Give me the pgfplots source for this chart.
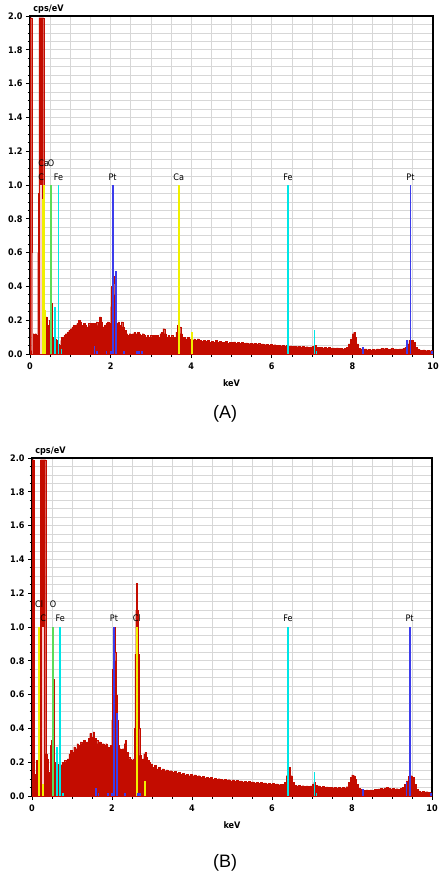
\documentclass[border=0pt]{standalone}
\usepackage{fontspec}
\setmainfont{DejaVu Sans Condensed}
\newfontfamily\capfont{Liberation Sans}
\usepackage{pgfplots}
\pgfplotsset{compat=1.18}
\definecolor{spec}{RGB}{195,12,0}
\definecolor{ly}{RGB}{240,240,0}
\definecolor{lg}{RGB}{90,220,90}
\definecolor{lc}{RGB}{0,230,230}
\definecolor{lb}{RGB}{60,60,235}
\definecolor{lp}{RGB}{250,205,205}
\definecolor{gridc}{RGB}{215,215,215}
\tikzset{lbl/.style={font=\fontsize{9}{10}\selectfont, anchor=base, inner sep=0pt}}
\pgfplotsset{
  edsaxis/.style={
    scale only axis, width=403pt, height=338pt, clip mode=individual,
    xmin=0, xmax=10, ymin=0, ymax=2,
    xtick={0,2,...,10}, minor xtick={0.5,1,...,9.5},
    ytick={0,0.2,...,2.01}, minor y tick num=3,
    xtick pos=bottom, ytick pos=left,
    grid=both, major grid style={gridc, line width=0.8pt}, minor grid style={gridc, line width=0.8pt},
    tick align=outside, major tick length=4pt, minor tick length=2.5pt,
    tick style={black, line width=0.8pt},
    axis line style={black, line width=1.2pt},
    /pgf/number format/assume math mode=true,
    yticklabel style={/pgf/number format/.cd, fixed, fixed zerofill, precision=1},
    tick label style={font=\fontsize{9}{10}\selectfont\bfseries},
    xticklabel style={yshift=-1pt},
  },
  elline/.style={ycomb, mark=none, line width=1.8pt},
}
\begin{document}
\begin{tikzpicture}
\path[use as bounding box] (0,0) rectangle (439pt,-872pt);
% ---------------- Panel A ----------------
\begin{axis}[edsaxis, at={(30pt,-354pt)}, anchor=south west]
\addplot[const plot, fill=spec, draw=spec, line width=0.2pt] coordinates {
(0.00,1.99)(0.04,0.02)(0.07,0.12)(0.10,0.10)(0.13,0.12)(0.16,0.11)(0.19,0.60)(0.21,0.95)(0.22,1.99)
(0.34,0.45)(0.36,0.25)(0.38,0.15)(0.40,0.22)(0.42,0.12)(0.44,0.17)(0.46,0.08)(0.48,0.20)(0.50,0.35)
(0.52,0.30)(0.54,0.15)(0.56,0.10)(0.58,0.08)(0.60,0.10)(0.62,0.09)(0.64,0.07)(0.66,0.08)(0.68,0.05)
(0.70,0.06)(0.72,0.04)(0.74,0.05)(0.76,0.08)(0.78,0.10)(0.80,0.10)(0.84,0.11)(0.88,0.12)(0.92,0.13)
(0.96,0.14)(1.00,0.15)(1.04,0.16)(1.08,0.17)(1.12,0.17)(1.16,0.18)(1.20,0.20)(1.24,0.19)(1.28,0.17)
(1.32,0.18)(1.36,0.17)(1.40,0.16)(1.44,0.18)(1.48,0.17)(1.52,0.18)(1.56,0.17)(1.60,0.18)(1.64,0.19)
(1.68,0.17)(1.72,0.22)(1.76,0.19)(1.80,0.16)(1.84,0.17)(1.88,0.18)(1.92,0.19)(1.96,0.18)(2.00,0.28)
(2.02,0.40)(2.04,0.44)(2.06,0.46)(2.08,0.42)(2.10,0.35)(2.12,0.25)(2.14,0.18)(2.18,0.19)(2.22,0.17)
(2.26,0.19)(2.30,0.16)(2.34,0.14)(2.38,0.12)(2.42,0.11)(2.46,0.12)(2.50,0.11)(2.54,0.12)(2.58,0.13)
(2.62,0.12)(2.66,0.13)(2.70,0.12)(2.74,0.11)(2.78,0.12)(2.82,0.11)(2.86,0.10)(2.90,0.11)(2.94,0.10)
(2.98,0.11)(3.02,0.10)(3.06,0.11)(3.10,0.10)(3.14,0.11)(3.18,0.10)(3.22,0.12)(3.26,0.13)(3.30,0.15)
(3.34,0.12)(3.38,0.10)(3.42,0.11)(3.46,0.10)(3.50,0.11)(3.54,0.10)(3.58,0.10)(3.62,0.13)(3.66,0.17)
(3.70,0.16)(3.74,0.12)(3.78,0.10)(3.82,0.10)(3.86,0.09)(3.90,0.10)(3.94,0.09)(3.98,0.09)(4.02,0.08)
(4.06,0.09)(4.10,0.08)(4.15,0.09)(4.20,0.08)(4.25,0.075)(4.30,0.08)(4.35,0.075)(4.40,0.08)(4.45,0.07)
(4.50,0.075)(4.55,0.07)(4.60,0.08)(4.65,0.07)(4.70,0.075)(4.75,0.07)(4.80,0.07)(4.85,0.075)(4.90,0.065)
(4.95,0.07)(5.00,0.068)(5.05,0.072)(5.10,0.065)(5.15,0.07)(5.20,0.063)(5.25,0.068)(5.30,0.062)
(5.35,0.066)(5.40,0.06)(5.45,0.065)(5.50,0.058)(5.55,0.064)(5.60,0.058)(5.65,0.062)(5.70,0.056)
(5.75,0.06)(5.80,0.055)(5.85,0.058)(5.90,0.052)(5.95,0.056)(6.00,0.05)(6.05,0.055)(6.10,0.05)
(6.15,0.053)(6.20,0.048)(6.25,0.052)(6.30,0.046)(6.35,0.05)(6.40,0.045)(6.45,0.048)(6.50,0.044)
(6.55,0.047)(6.60,0.043)(6.65,0.046)(6.70,0.042)(6.75,0.045)(6.80,0.04)(6.85,0.043)(6.90,0.039)
(6.95,0.042)(7.00,0.045)(7.05,0.05)(7.10,0.04)(7.15,0.038)(7.20,0.041)(7.25,0.036)(7.30,0.039)
(7.35,0.035)(7.40,0.038)(7.45,0.034)(7.50,0.037)(7.55,0.033)(7.60,0.036)(7.65,0.032)(7.70,0.035)
(7.75,0.031)(7.80,0.034)(7.85,0.04)(7.90,0.06)(7.95,0.09)(8.00,0.12)(8.03,0.13)(8.06,0.10)(8.10,0.06)
(8.15,0.035)(8.20,0.03)(8.25,0.027)(8.30,0.03)(8.35,0.026)(8.40,0.029)(8.45,0.025)(8.50,0.028)
(8.55,0.026)(8.60,0.03)(8.65,0.027)(8.70,0.032)(8.75,0.028)(8.80,0.035)(8.85,0.03)(8.90,0.028)
(8.95,0.032)(9.00,0.027)(9.05,0.03)(9.10,0.028)(9.15,0.031)(9.20,0.03)(9.25,0.033)(9.30,0.04)
(9.35,0.06)(9.40,0.08)(9.45,0.08)(9.50,0.07)(9.55,0.04)(9.60,0.03)(9.65,0.025)(9.70,0.022)
(9.75,0.025)(9.80,0.02)(9.85,0.023)(9.90,0.02)(9.95,0.022)(10.0,0.02)
} \closedcycle;
\addplot[ycomb, mark=none, color=spec!50, line width=1pt] coordinates {(0.055,0.6)};
\addplot[elline, color=lp] coordinates {(0.277,1)};
\addplot[elline, color=ly] coordinates {(0.341,1)(0.31,0.92)(0.38,0.26)(4.01,0.13)(3.69,1)};
\addplot[elline, color=lg] coordinates {(0.525,1)};
\addplot[elline, color=lc] coordinates {(0.705,1)(0.63,0.28)(0.78,0.03)(6.40,1)(7.06,0.14)(7.11,0.02)};
\addplot[elline, color=lb] coordinates {(2.05,1)(2.13,0.49)(1.60,0.05)(1.66,0.02)(1.90,0.02)(2.00,0.02)(2.33,0.02)(2.65,0.02)(2.70,0.02)(2.78,0.02)(9.44,1)(9.36,0.08)(8.27,0.04)(9.98,0.02)};
\node[lbl] at (axis cs:0.341,1.11) {Ca};
\node[lbl] at (axis cs:0.525,1.11) {O};
\node[lbl] at (axis cs:0.277,1.025) {C};
\node[lbl] at (axis cs:0.705,1.025) {Fe};
\node[lbl] at (axis cs:2.05,1.025) {Pt};
\node[lbl] at (axis cs:3.69,1.025) {Ca};
\node[lbl] at (axis cs:6.40,1.025) {Fe};
\node[lbl] at (axis cs:9.44,1.025) {Pt};
\node[font=\fontsize{9}{10}\selectfont\bfseries, anchor=south west, inner sep=0pt] at (rel axis cs:0.008,1.008) {cps/eV};
\node[font=\fontsize{9}{10}\selectfont\bfseries, anchor=base] at (rel axis cs:0.5,-0.095) {keV};
\end{axis}
\node[font=\capfont\fontsize{18}{20}\selectfont] at (225pt,-414pt) {(A)};
% ---------------- Panel B ----------------
\begin{axis}[edsaxis, at={(32pt,-796pt)}, anchor=south west, width=400pt]
\addplot[const plot, fill=spec, draw=spec, line width=0.2pt] coordinates {
(0.00,1.99)(0.05,0.02)(0.07,0.13)(0.11,0.21)(0.15,0.22)(0.19,0.90)(0.21,1.99)
(0.34,0.25)(0.37,0.22)(0.40,0.14)(0.43,0.13)(0.46,0.30)(0.48,0.33)(0.50,0.50)(0.52,0.69)(0.54,0.45)
(0.56,0.20)(0.58,0.18)(0.60,0.15)(0.62,0.18)(0.64,0.16)(0.66,0.19)(0.68,0.15)(0.70,0.12)(0.72,0.18)
(0.74,0.19)(0.76,0.20)(0.80,0.21)(0.84,0.20)(0.88,0.22)(0.92,0.25)(0.96,0.27)(1.00,0.26)(1.04,0.29)
(1.08,0.28)(1.12,0.31)(1.16,0.30)(1.20,0.32)(1.24,0.31)(1.28,0.33)(1.32,0.30)(1.36,0.32)(1.40,0.34)
(1.44,0.37)(1.48,0.35)(1.52,0.38)(1.56,0.34)(1.60,0.33)(1.64,0.31)(1.68,0.32)(1.72,0.30)(1.76,0.31)
(1.80,0.30)(1.84,0.31)(1.88,0.29)(1.92,0.28)(1.96,0.30)(1.99,0.45)(2.01,0.75)(2.03,0.90)(2.05,1.00)
(2.07,0.85)(2.09,0.80)(2.11,0.60)(2.13,0.45)(2.15,0.30)(2.18,0.28)(2.22,0.27)(2.26,0.28)(2.30,0.31)
(2.33,0.33)(2.36,0.26)(2.40,0.23)(2.44,0.22)(2.48,0.21)(2.52,0.22)(2.55,0.40)(2.57,0.84)(2.59,1.10)
(2.61,1.26)(2.63,1.10)(2.65,0.84)(2.67,0.40)(2.69,0.24)(2.72,0.21)(2.76,0.22)(2.79,0.25)(2.82,0.26)
(2.85,0.23)(2.88,0.21)(2.92,0.20)(2.96,0.19)(3.00,0.17)(3.05,0.18)(3.10,0.16)(3.15,0.17)(3.20,0.155)
(3.25,0.16)(3.30,0.15)(3.35,0.155)(3.40,0.145)(3.45,0.15)(3.50,0.14)(3.55,0.145)(3.60,0.135)
(3.65,0.14)(3.70,0.13)(3.75,0.135)(3.80,0.125)(3.85,0.13)(3.90,0.12)(3.95,0.128)(4.00,0.12)
(4.05,0.125)(4.10,0.115)(4.15,0.12)(4.20,0.11)(4.25,0.115)(4.30,0.108)(4.35,0.112)(4.40,0.105)
(4.45,0.11)(4.50,0.10)(4.55,0.105)(4.60,0.098)(4.65,0.103)(4.70,0.10)(4.75,0.095)(4.80,0.10)
(4.85,0.092)(4.90,0.097)(4.95,0.09)(5.00,0.095)(5.05,0.088)(5.10,0.093)(5.15,0.086)(5.20,0.09)
(5.25,0.084)(5.30,0.088)(5.35,0.082)(5.40,0.086)(5.45,0.08)(5.50,0.084)(5.55,0.078)(5.60,0.082)
(5.65,0.076)(5.70,0.08)(5.75,0.074)(5.80,0.078)(5.85,0.072)(5.90,0.076)(5.95,0.07)(6.00,0.074)
(6.05,0.068)(6.10,0.072)(6.15,0.067)(6.20,0.07)(6.25,0.068)(6.30,0.08)(6.35,0.12)(6.38,0.17)
(6.42,0.17)(6.46,0.12)(6.50,0.08)(6.55,0.065)(6.60,0.06)(6.65,0.063)(6.70,0.058)(6.75,0.061)
(6.80,0.057)(6.85,0.06)(6.90,0.056)(6.95,0.06)(7.00,0.07)(7.04,0.08)(7.08,0.065)(7.12,0.055)
(7.15,0.06)(7.20,0.052)(7.25,0.056)(7.30,0.05)(7.35,0.054)(7.40,0.05)(7.45,0.053)(7.50,0.049)
(7.55,0.052)(7.60,0.048)(7.65,0.051)(7.70,0.047)(7.75,0.05)(7.80,0.048)(7.85,0.055)(7.90,0.08)
(7.95,0.11)(7.99,0.125)(8.03,0.12)(8.07,0.10)(8.11,0.07)(8.15,0.045)(8.20,0.04)(8.25,0.036)
(8.30,0.034)(8.35,0.036)(8.40,0.033)(8.45,0.037)(8.50,0.035)(8.55,0.04)(8.60,0.038)(8.65,0.042)
(8.70,0.045)(8.75,0.042)(8.80,0.048)(8.85,0.05)(8.90,0.045)(8.95,0.042)(9.00,0.045)(9.05,0.04)
(9.10,0.043)(9.15,0.04)(9.20,0.045)(9.25,0.05)(9.30,0.07)(9.35,0.09)(9.40,0.115)(9.45,0.12)
(9.50,0.11)(9.55,0.07)(9.60,0.04)(9.65,0.03)(9.70,0.025)(9.75,0.028)(9.80,0.024)(9.85,0.026)
(9.90,0.022)(9.95,0.02)(10.0,0.02)
} \closedcycle;
\addplot[elline, color=lp] coordinates {(0.277,1)};
\addplot[elline, color=ly] coordinates {(0.18,1)(0.27,0.07)(2.62,1)(2.82,0.09)};
\addplot[elline, color=lg] coordinates {(0.525,1)};
\addplot[elline, color=lc] coordinates {(0.705,1)(0.62,0.29)(0.78,0.02)(6.40,1)(7.06,0.14)(7.11,0.02)};
\addplot[elline, color=lb] coordinates {(2.05,1)(2.13,0.49)(1.60,0.05)(1.66,0.02)(1.90,0.02)(2.00,0.02)(2.33,0.02)(2.65,0.02)(2.70,0.02)(9.44,1)(9.36,0.08)(8.27,0.04)(9.98,0.02)};
\node[lbl] at (axis cs:0.18,1.118) {Cl};
\node[lbl] at (axis cs:0.525,1.118) {O};
\node[lbl] at (axis cs:0.277,1.03) {C};
\node[lbl] at (axis cs:0.705,1.03) {Fe};
\node[lbl] at (axis cs:2.05,1.03) {Pt};
\node[lbl] at (axis cs:2.62,1.03) {Cl};
\node[lbl] at (axis cs:6.40,1.03) {Fe};
\node[lbl] at (axis cs:9.44,1.03) {Pt};
\node[font=\fontsize{9}{10}\selectfont\bfseries, anchor=south west, inner sep=0pt] at (rel axis cs:0.008,1.008) {cps/eV};
\node[font=\fontsize{9}{10}\selectfont\bfseries, anchor=base] at (rel axis cs:0.5,-0.095) {keV};
\end{axis}
\node[font=\capfont\fontsize{18}{20}\selectfont] at (225pt,-863pt) {(B)};
\end{tikzpicture}
\end{document}
